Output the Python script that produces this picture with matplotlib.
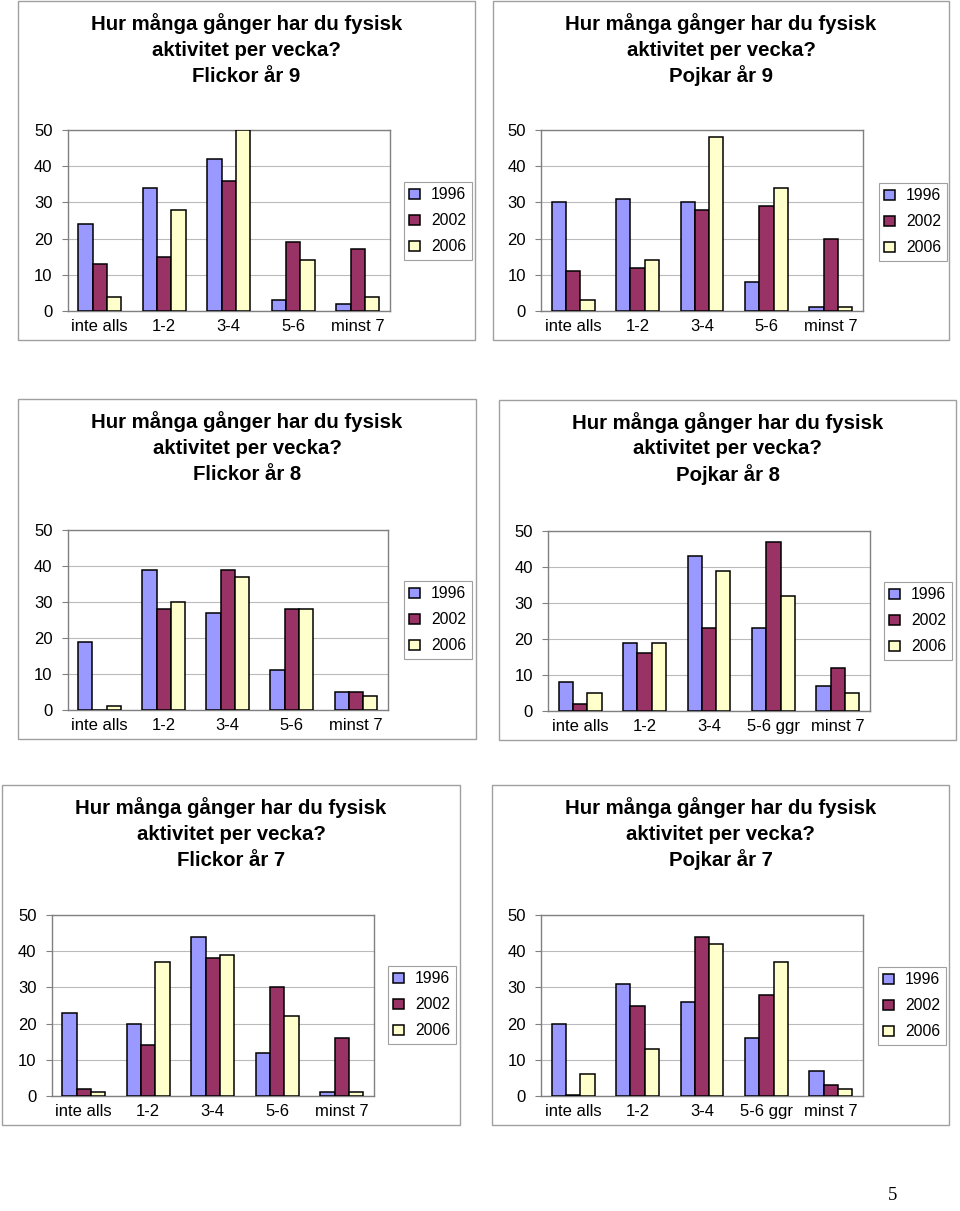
import matplotlib.pyplot as plt
from matplotlib.patches import Rectangle

plt.rcParams['font.family'] = ['Liberation Sans', 'DejaVu Sans']

# Data (percent)
years = ['1996', '2002', '2006']
cats = ['inte alls', '1-2', '3-4', '5-6', 'minst 7']
cats_ggr = ['inte alls', '1-2', '3-4', '5-6 ggr', 'minst 7']

flickor9_1996 = [24, 34, 42, 3, 2]
flickor9_2002 = [13, 15, 36, 19, 17]
flickor9_2006 = [4, 28, 50, 14, 4]

pojkar9_1996 = [30, 31, 30, 8, 1]
pojkar9_2002 = [11, 12, 28, 29, 20]
pojkar9_2006 = [3, 14, 48, 34, 1]

flickor8_1996 = [19, 39, 27, 11, 5]
flickor8_2002 = [0, 28, 39, 28, 5]
flickor8_2006 = [1, 30, 37, 28, 4]

pojkar8_1996 = [8, 19, 43, 23, 7]
pojkar8_2002 = [2, 16, 23, 47, 12]
pojkar8_2006 = [5, 19, 39, 32, 5]

flickor7_1996 = [23, 20, 44, 12, 1]
flickor7_2002 = [2, 14, 38, 30, 16]
flickor7_2006 = [1, 37, 39, 22, 1]

pojkar7_1996 = [20, 31, 26, 16, 7]
pojkar7_2002 = [0.3, 25, 44, 28, 3]
pojkar7_2006 = [6, 13, 42, 37, 2]

title_start = ['Hur många gånger har du fysisk', 'aktivitet per vecka?']
subtitles = ['Flickor år 9', 'Pojkar år 9', 'Flickor år 8',
             'Pojkar år 8', 'Flickor år 7', 'Pojkar år 7']

colors = ['#9999FF', '#993366', '#FFFFCC']

# Pixel layout of the page (box, plot area, legend top-left)
W, H = 960, 1211
layout = [
    ((18, 1, 475, 340), (67.5, 130, 390, 311), (404, 182)),
    ((493, 1, 949, 340), (541, 130, 863, 311), (879, 183)),
    ((18, 399, 476, 739), (67.5, 530, 388, 710), (404, 581)),
    ((499, 400, 956, 740), (548, 531, 870, 711), (884, 582)),
    ((2, 785, 460, 1125), (51.5, 915, 374, 1096), (388, 966)),
    ((492, 785, 949, 1125), (541, 915, 863, 1096), (878, 967)),
]

fig = plt.figure(figsize=(W / 100, H / 100), dpi=100)


def fx(px):
    return px / W


def fy(py):
    return 1 - py / H


def draw_panel(box, plot, leg, subtitle, labels, series):
    # outer chart frame
    x0, y0, x1, y1 = box
    fig.patches.append(Rectangle((fx(x0), fy(y1)), fx(x1) - fx(x0), fy(y0) - fy(y1),
                                 transform=fig.transFigure, fill=False,
                                 edgecolor='#A0A0A0', lw=1.0))
    # three-line bold title
    cx = (x0 + x1) / 2
    for k, line in enumerate(title_start + [subtitle]):
        fig.text(fx(cx), fy(y0 + 23 + 26 * k), line, ha='center', va='center',
                 fontsize=14.7, fontweight='bold')

    px0, py0, px1, py1 = plot
    ax = fig.add_axes([fx(px0), fy(py1), fx(px1) - fx(px0), fy(py0) - fy(py1)])
    w = 1 / 4.5
    xs = range(len(labels))
    for k, vals in enumerate(series):
        ax.bar([x + (k - 1) * w for x in xs], vals, width=w, color=colors[k],
               edgecolor='black', linewidth=1.1, label=years[k], zorder=3)

    ax.set_xlim(-0.5, len(labels) - 0.5)
    ax.set_ylim(0, 50)
    ax.set_yticks(range(0, 51, 10))
    ax.set_xticks(list(xs))
    ax.set_xticklabels(labels)
    ax.yaxis.grid(True, color='#BBBBBB', lw=0.8, zorder=0)
    ax.tick_params(axis='y', length=4.3, width=0.8, color='#808080', pad=6.5, labelsize=12)
    ax.tick_params(axis='x', length=0, pad=6, labelsize=12)
    for s in ax.spines.values():
        s.set_color('#808080')
        s.set_linewidth(1.0)

    leg_obj = ax.legend(loc='upper left', bbox_to_anchor=(fx(leg[0]), fy(leg[1])),
                        bbox_transform=fig.transFigure, borderaxespad=0,
                        fontsize=11.3, fancybox=False, framealpha=1,
                        edgecolor='#A0A0A0', handlelength=0.68, handleheight=0.68,
                        handletextpad=0.7, labelspacing=0.7, borderpad=0.35)
    leg_obj.get_frame().set_linewidth(0.8)


all_series = [
    (cats, [flickor9_1996, flickor9_2002, flickor9_2006]),
    (cats, [pojkar9_1996, pojkar9_2002, pojkar9_2006]),
    (cats, [flickor8_1996, flickor8_2002, flickor8_2006]),
    (cats_ggr, [pojkar8_1996, pojkar8_2002, pojkar8_2006]),
    (cats, [flickor7_1996, flickor7_2002, flickor7_2006]),
    (cats_ggr, [pojkar7_1996, pojkar7_2002, pojkar7_2006]),
]

for (box, plot, leg), sub, (labels, series) in zip(layout, subtitles, all_series):
    draw_panel(box, plot, leg, sub, labels, series)

# page number
fig.text(fx(893), fy(1196), '5', ha='center', va='center',
         fontsize=13.5, family='Liberation Serif')

fig.savefig('out.png', dpi=100)
